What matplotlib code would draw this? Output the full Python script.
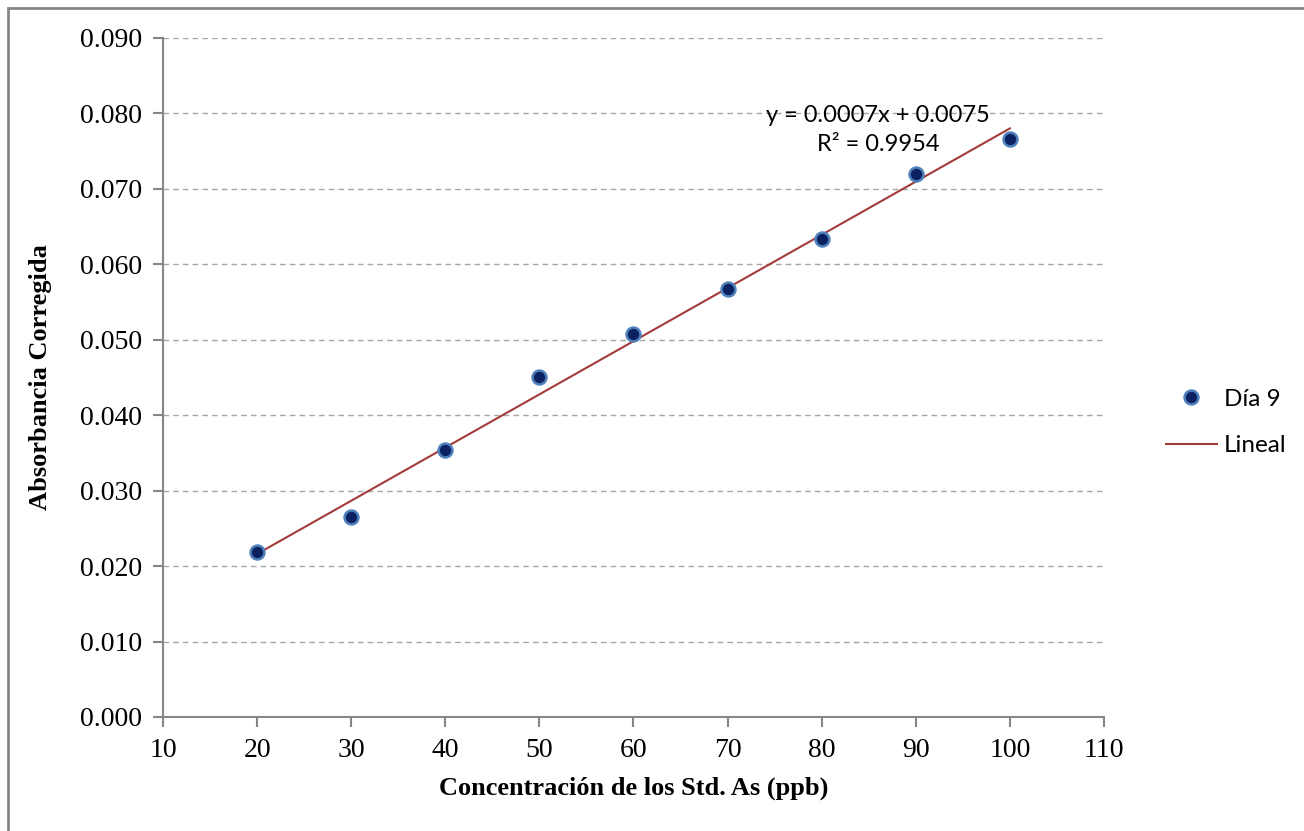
import numpy as np
import matplotlib
matplotlib.use("Agg")
import matplotlib.pyplot as plt
from matplotlib.patches import Rectangle
from matplotlib.lines import Line2D

# Data
conc = [20, 30, 40, 50, 60, 70, 80, 90, 100]
absorb = [0.0219, 0.0265, 0.0354, 0.0450, 0.0508, 0.0567, 0.0634, 0.0720, 0.0766]
series_name = "Día 9"
trend_name = "Lineal"
eq_text = "y = 0.0007x + 0.0075\nR² = 0.9954"

serif = ["Liberation Serif", "DejaVu Serif"]
sans = ["Lato", "DejaVu Sans"]

fig = plt.figure(figsize=(13.04, 8.31), dpi=100)
ax = fig.add_axes([0.125, 0.1372, 0.7216, 0.8171])

# outer chart border
fig.patches.append(Rectangle((8 / 1304, -0.1), 1.2, 1.1 - 8 / 831,
                             transform=fig.transFigure, fill=False,
                             edgecolor="#868686", linewidth=2))

# linear fit
slope, intercept = np.polyfit(conc, absorb, 1)
xfit = np.array([min(conc), max(conc)])
ax.plot(xfit, slope * xfit + intercept, color="#A33B3B", linewidth=1.5, zorder=2)

ax.plot(conc, absorb, linestyle="none", marker="o", markersize=10,
        markerfacecolor="#0B2160", markeredgecolor="#4F81BD",
        markeredgewidth=1.8, zorder=3)

ax.text(86.0, 0.0778, eq_text, ha="center", va="center",
        fontsize=17, family=sans, linespacing=1.43)

ax.set_xlim(10, 110)
ax.set_ylim(0, 0.09)
ax.set_xticks(np.arange(10, 111, 10))
ax.set_yticks(np.arange(0, 0.0901, 0.01))
ax.set_yticklabels([f"{v:.3f}" for v in np.arange(0, 0.0901, 0.01)])

ax.yaxis.grid(True, linestyle=(0, (4, 3)), color="#A6A6A6", linewidth=1)
ax.set_axisbelow(True)
for s in ["top", "right"]:
    ax.spines[s].set_visible(False)
for s in ["left", "bottom"]:
    ax.spines[s].set_color("#868686")
    ax.spines[s].set_linewidth(1.5)
ax.tick_params(direction="out", length=7, width=1.5, color="#868686",
               labelsize=20, pad=8)
for lab in ax.get_xticklabels() + ax.get_yticklabels():
    lab.set_family(serif)

ax.set_xlabel("Concentración de los Std. As (ppb)", family=serif,
              fontsize=19, fontweight="bold", labelpad=10)
ax.set_ylabel("Absorbancia Corregida", family=serif,
              fontsize=19, fontweight="bold", labelpad=20)

handles = [
    Line2D([], [], linestyle="none", marker="o", markersize=10,
           markerfacecolor="#0B2160", markeredgecolor="#4F81BD",
           markeredgewidth=1.8),
    Line2D([], [], color="#A33B3B", linewidth=1.5),
]
ax.legend(handles, [series_name, trend_name], loc="center left",
          bbox_to_anchor=(1.0425, 0.434), frameon=False, handlelength=2.1,
          handletextpad=0.3, labelspacing=1.05,
          prop={"family": sans, "size": 17.5})

fig.savefig("out.png", dpi=100)
